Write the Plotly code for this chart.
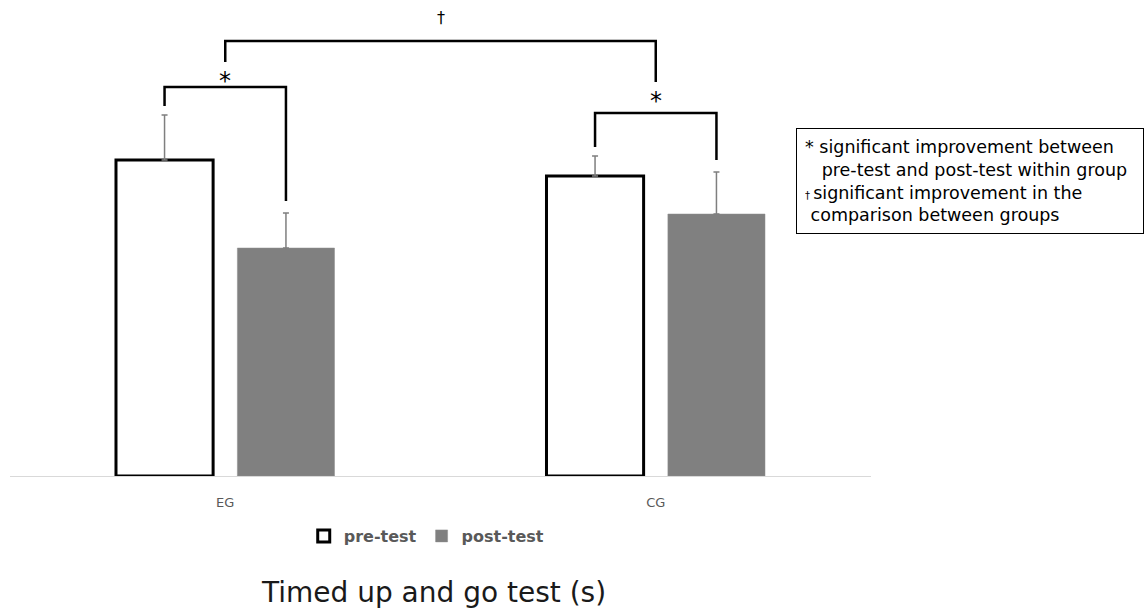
import plotly.graph_objects as go

groups = ["EG", "CG"]
pre_test = [15.8, 15.0]
pre_sd = [2.25, 1.0]
post_test = [11.4, 13.1]
post_sd = [1.75, 2.1]
series_names = ["pre-test", "post-test"]
title_text = "Timed up and go test (s)"
note_lines = [
    "* significant improvement between",
    "   pre-test and post-test within group",
    "<span style='font-size:10px'>† </span>significant improvement in the",
    " comparison between groups",
]

FONT = "DejaVu Sans, Open Sans, sans-serif"
OFF = 0.141  # half distance between paired bars (group layout)

fig = go.Figure()
fig.add_trace(go.Bar(
    name=series_names[0], x=groups, y=pre_test,
    marker=dict(color="white", line=dict(color="black", width=3)),
    error_y=dict(type="data", array=pre_sd, arrayminus=[0, 0], symmetric=False,
                 color="#7f7f7f", thickness=1.5, width=3),
))
fig.add_trace(go.Bar(
    name=series_names[1], x=groups, y=post_test,
    marker=dict(color="#808080", line=dict(color="#8c8c8c", width=0.5)),
    error_y=dict(type="data", array=post_sd, arrayminus=[0, 0], symmetric=False,
                 color="#7f7f7f", thickness=1.5, width=3),
))

def bracket(x0, x1, ytop, yl, yr, color="black"):
    fig.add_shape(type="path",
                  path=f"M {x0} {yl} L {x0} {ytop} L {x1} {ytop} L {x1} {yr}",
                  xref="x", yref="y", line=dict(color=color, width=2.5))

# within-group brackets: (bracket level, leg gap, star offset)
for i, (lvl, gap, star) in enumerate([(19.45, 0.45, 0.3), (18.15, 0.45, 0.6)]):
    xl, xr = i - OFF, i + OFF
    yl = pre_test[i] + pre_sd[i] + gap
    yr = post_test[i] + post_sd[i] + gap + 0.15
    bracket(xl, xr, lvl, yl, yr)
    fig.add_annotation(x=i, y=lvl + star, xref="x", yref="y", text="*",
                       yanchor="middle", showarrow=False,
                       font=dict(size=24, color="black", family=FONT))

# between-group bracket
bracket(0, 1, 21.75, 20.7, 19.7)
fig.add_annotation(x=0.5, y=22.95, xref="x", yref="y", text="†",
                   showarrow=False, font=dict(size=16, color="black", family=FONT))

# note box
fig.add_annotation(
    xref="paper", yref="paper", x=0.913, y=0.731, xanchor="left", yanchor="top",
    text="<br>".join(note_lines), align="left", showarrow=False,
    font=dict(size=17.5, color="black", family=FONT),
    bordercolor="black", borderwidth=1, borderpad=8, bgcolor="white",
    width=330,
)

# title below
fig.add_annotation(xref="paper", yref="paper", x=0.492, y=-0.245, yanchor="middle",
                   text=title_text, showarrow=False,
                   font=dict(size=28, color="#1a1a1a", family=FONT))

fig.update_layout(
    width=1146, height=608,
    margin=dict(l=10, r=275, t=0, b=132),
    paper_bgcolor="white", plot_bgcolor="white",
    barmode="group", bargap=0.436, bargroupgap=0.2,
    showlegend=True,
    legend=dict(orientation="h", x=0.484, xanchor="center", y=-0.126, yanchor="middle",
                font=dict(size=16, color="#595959", family=FONT, weight="bold"),
                itemwidth=30, traceorder="normal"),
    font=dict(family=FONT),
)
fig.update_xaxes(range=[-0.5, 1.5], showline=True, linecolor="#d9d9d9", linewidth=1,
                 ticks="", ticklabelstandoff=14,
                 tickfont=dict(size=13, color="#595959", family=FONT),
                 showgrid=False, fixedrange=True)
fig.update_yaxes(range=[0, 23.8], visible=False, showgrid=False, zeroline=False,
                 fixedrange=True)

fig.write_html("out.html", config={"displayModeBar": False},
               post_script="document.body.style.margin='0';")
